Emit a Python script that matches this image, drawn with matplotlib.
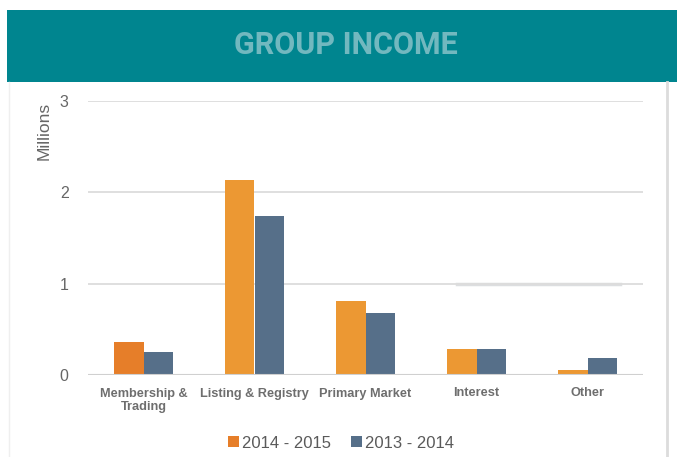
import matplotlib
matplotlib.use("Agg")
import matplotlib.pyplot as plt
from matplotlib.patches import Rectangle, Patch
from matplotlib.lines import Line2D
import numpy as np

categories = ["Membership &\nTrading", "Listing & Registry", "Primary Market", "Interest", "Other"]
series_names = ["2014 - 2015", "2013 - 2014"]
values_2015 = [0.36, 2.13, 0.81, 0.28, 0.06]
values_2014 = [0.25, 1.74, 0.68, 0.28, 0.19]
yticks = [0, 1, 2, 3]

ORANGE_DARK = "#E67E29"
ORANGE = "#EC9833"
BLUE = "#566F89"
TEAL = "#00858F"

plt.rcParams['font.family'] = ['Liberation Sans', 'DejaVu Sans']

fig = plt.figure(figsize=(6.77, 4.57), dpi=100)
W, H = 677, 457

# header band
fig.patches.append(Rectangle((7 / W, 1 - 82 / H), 1, 72 / H, transform=fig.transFigure,
                             facecolor=TEAL, edgecolor="none", zorder=0))
fig.text(346 / W, 1 - 45 / H, "GROUP INCOME", ha="center", va="center",
         fontsize=22, fontweight="bold", color="#72B8BF",
         family=["Roboto", "Liberation Sans", "DejaVu Sans"])
# panel borders
fig.add_artist(Line2D([9 / W, 9 / W], [0, 1 - 82 / H], transform=fig.transFigure,
                      color="#EFEFEF", lw=1))
fig.add_artist(Line2D([667 / W, 667 / W], [0, 1 - 82 / H], transform=fig.transFigure,
                      color="#DCDCDC", lw=2))

ax = fig.add_axes([88 / W, 1 - 375 / H, 555 / W, 274 / H])
x = np.arange(len(categories))
w = 0.265
cols_2015 = [ORANGE_DARK] + [ORANGE] * (len(categories) - 1)
ax.bar(x - w / 2, values_2015, w, color=cols_2015, zorder=3)
ax.bar(x + w / 2, values_2014, w, color=BLUE, zorder=3)

ax.set_xlim(-0.5, len(categories) - 0.5)
ax.set_ylim(0, 3)
ax.set_yticks(yticks)
ax.set_yticklabels([str(t) for t in yticks])
ax.yaxis.grid(True, color="#DCDCDC", lw=1.3, zorder=0)
ax.axhline(1, xmin=0.665, xmax=0.959, color="#DCDEE0", lw=2.5, zorder=1)
ax.axhline(0, color="#D0D0D0", lw=1.5, zorder=4)
for s in ax.spines.values():
    s.set_visible(False)
ax.tick_params(axis="both", length=0)
ax.tick_params(axis="y", pad=14, labelsize=11.5, labelcolor="#666666")
ax.set_xticks(x)
ax.set_xticklabels(categories, fontsize=9.2, fontweight="bold", color="#6E6E6E",
                   linespacing=1.15)
ax.tick_params(axis="x", pad=9)
ax.set_ylabel("Millions", fontsize=12.5, color="#666666")
ax.yaxis.set_label_coords(-0.065, 0.89)

handles = [Patch(facecolor=ORANGE_DARK, edgecolor="none"),
           Patch(facecolor=BLUE, edgecolor="none")]
fig.legend(handles, series_names, loc="center", bbox_to_anchor=(341 / W, 1 - 443 / H),
           ncol=2, frameon=False, fontsize=12, handlelength=0.65, handleheight=0.65,
           handletextpad=0.2, columnspacing=1.2, labelcolor="#5A5A5A")

fig.savefig("out.png", dpi=100, facecolor="white")
